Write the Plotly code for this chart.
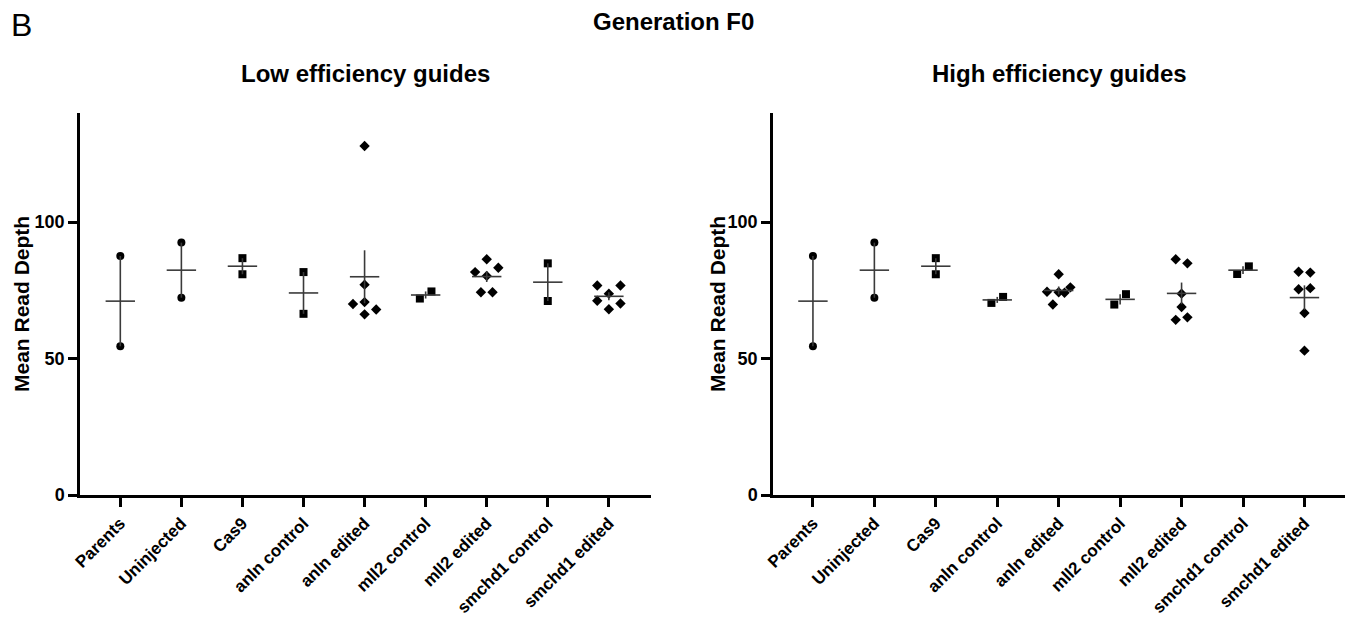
import numpy as np
import plotly.graph_objects as go

categories = ["Parents", "Uninjected", "Cas9", "anln control", "anln edited",
              "mll2 control", "mll2 edited", "smchd1 control", "smchd1 edited"]
symbols = ["circle", "circle", "square", "square", "diamond",
           "square", "diamond", "square", "diamond"]

low_values = [
    [87.6, 54.5],
    [92.5, 72.3],
    [86.8, 80.9],
    [81.7, 66.4],
    [127.9, 77.1, 70.7, 70.0, 68.0, 66.2],
    [72.0, 74.6],
    [86.4, 83.3, 81.7, 80.3, 74.3, 74.3],
    [84.9, 71.1],
    [76.8, 76.8, 73.8, 71.2, 70.2, 68.1],
]
low_jitter = [
    [0, 0], [0, 0], [0, 0], [0, 0],
    [0, 0, 0, -0.19, 0.19, 0],
    [-0.095, 0.095],
    [0, 0.19, -0.19, 0, -0.095, 0.095],
    [0, 0],
    [-0.19, 0.19, 0, -0.19, 0.19, 0],
]

high_values = [
    [87.6, 54.5],
    [92.5, 72.3],
    [86.8, 80.9],
    [70.4, 72.6],
    [80.9, 74.5, 74.3, 74.1, 76.1, 69.8],
    [69.8, 73.6],
    [86.4, 84.9, 73.8, 68.9, 64.2, 65.1],
    [81.0, 83.8],
    [81.8, 81.5, 75.4, 75.8, 66.7, 52.9],
]
high_jitter = [
    [0, 0], [0, 0], [0, 0],
    [-0.095, 0.095],
    [0, -0.19, 0, 0.095, 0.19, -0.095],
    [-0.095, 0.095],
    [-0.095, 0.095, 0, 0, -0.095, 0.095],
    [-0.095, 0.095],
    [-0.095, 0.095, -0.095, 0.095, 0, 0],
]

y_ticks = [0, 50, 100]

FONT = "Arial, Liberation Sans, sans-serif"
W, H = 1348, 619

fig = go.Figure()


def add_panel(values, jitter, xa, ya):
    for i, (vals, jit) in enumerate(zip(values, jitter)):
        v = np.array(vals, dtype=float)
        mean = v.mean()
        sem = v.std(ddof=1) / np.sqrt(len(v))
        fig.add_trace(go.Scatter(
            x=[i + j for j in jit], y=vals, mode="markers",
            marker=dict(symbol=symbols[i], size=8,
                        color="black", line=dict(width=0)),
            xaxis=xa, yaxis=ya, showlegend=False, hoverinfo="y"))
        fig.add_trace(go.Scatter(
            x=[i], y=[mean], mode="markers",
            marker=dict(symbol="line-ew", size=21, color="#3a3a3a",
                        line=dict(width=1.6, color="#3a3a3a")),
            error_y=dict(type="data", array=[sem], visible=True,
                         color="#3a3a3a", thickness=1.6, width=0),
            xaxis=xa, yaxis=ya, showlegend=False, hoverinfo="y"))


add_panel(low_values, low_jitter, "x", "y")
add_panel(high_values, high_jitter, "x2", "y2")

ydom = [(H - 495) / H, (H - 113) / H]

xaxis_common = dict(
    tickmode="array", tickvals=list(range(len(categories))), ticktext=categories,
    tickangle=-45, showline=True, linecolor="black", linewidth=2.5,
    ticks="outside", ticklen=9, tickwidth=2.5, tickcolor="black",
    showgrid=False, zeroline=False, automargin=False,
    tickfont=dict(family=FONT, size=17, color="black", weight="bold"),
)
yaxis_common = dict(
    range=[0, 140], tickmode="array", tickvals=y_ticks,
    showline=True, linecolor="black", linewidth=2.5,
    ticks="outside", ticklen=9, tickwidth=2.5, tickcolor="black",
    showgrid=False, zeroline=False, automargin=False,
    tickfont=dict(family=FONT, size=18, color="black", weight="bold"),
)

fig.update_layout(
    width=W, height=H,
    margin=dict(l=0, r=0, t=0, b=0),
    paper_bgcolor="white", plot_bgcolor="white",
    xaxis=dict(domain=[80 / W, 651 / W], range=[-0.66, 8.69], anchor="y", **xaxis_common),
    yaxis=dict(domain=ydom, anchor="x", **yaxis_common),
    xaxis2=dict(domain=[773 / W, 1345 / W], range=[-0.65, 8.66], anchor="y2", **xaxis_common),
    yaxis2=dict(domain=ydom, anchor="x2", **yaxis_common),
    font=dict(family=FONT, color="black"),
)

annotations = [
    dict(text="B", x=21 / W, y=(H - 25) / H, font=dict(family=FONT, size=32, color="black")),
    dict(text="Generation F0", x=673 / W, y=(H - 21) / H,
         font=dict(family=FONT, size=24, color="black", weight="bold")),
    dict(text="Low efficiency guides", x=365 / W, y=(H - 74) / H,
         font=dict(family=FONT, size=24, color="black", weight="bold")),
    dict(text="High efficiency guides", x=1059 / W, y=(H - 74) / H,
         font=dict(family=FONT, size=24, color="black", weight="bold")),
    dict(text="Mean Read Depth", x=21 / W, y=(H - 304) / H, textangle=-90,
         font=dict(family=FONT, size=21, color="black", weight="bold")),
    dict(text="Mean Read Depth", x=717 / W, y=(H - 304) / H, textangle=-90,
         font=dict(family=FONT, size=21, color="black", weight="bold")),
]
for a in annotations:
    a.update(xref="paper", yref="paper", showarrow=False, xanchor="center", yanchor="middle")
fig.update_layout(annotations=annotations)

fig.write_html("out.html", config={"displayModeBar": False},
               post_script="document.body.style.margin='0';document.body.style.overflow='hidden';")
